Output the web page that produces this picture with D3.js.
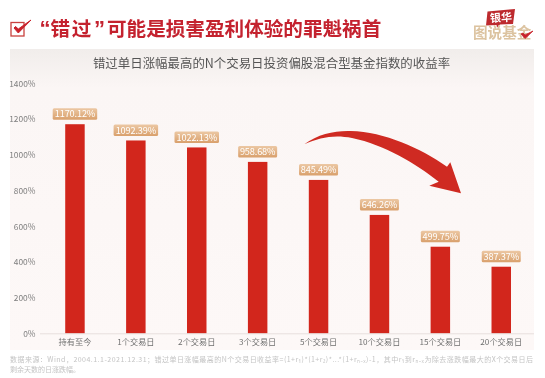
<!DOCTYPE html>
<html><head><meta charset="utf-8">
<script src="https://cdn.jsdelivr.net/npm/d3@7/dist/d3.min.js"></script>
<style>html,body{margin:0;padding:0;background:#fff}svg{display:block}text{font-family:"Noto Sans CJK SC","Noto Sans",sans-serif}</style>
</head><body><svg id="c" width="545" height="378"></svg>
<script>
const headlineParts = ["“","错过","”","可能是损害盈利体验的罪魁祸首"];
const chartTitle = "错过单日涨幅最高的N个交易日投资偏股混合型基金指数的收益率";
const categories = ["持有至今","1个交易日","2个交易日","3个交易日","5个交易日","10个交易日","15个交易日","20个交易日"];
const barHeights = [1172,1081,1042,961,860,664,486,374];
const barLabels = ["1170.12%","1092.39%","1022.13%","958.68%","845.49%","646.26%","499.75%","387.37%"];
const yTicks = [0,200,400,600,800,1000,1200,1400];
const footer = ["数据来源：Wind，2004.1.1-2021.12.31；错过单日涨幅最高的N个交易日收益率=(1+r₁)*(1+r₂)*...*(1+rₙ₋ₓ)-1，其中r₁到rₙ₋ₓ为除去涨跌幅最大的X个交易日后","剩余天数的日涨跌幅。"];

const svg = d3.select("#c");
const defs = svg.append("defs");
const bg = defs.append("linearGradient").attr("id","bg").attr("x1",0).attr("x2",0).attr("y1",0).attr("y2",1);
bg.append("stop").attr("offset",0).attr("stop-color","#f1edeb");
bg.append("stop").attr("offset",0.13).attr("stop-color","#fbf6f5");
bg.append("stop").attr("offset",1).attr("stop-color","#fdf8f7");
const lg = defs.append("linearGradient").attr("id","lab").attr("x1",0).attr("x2",0).attr("y1",0).attr("y2",1);
lg.append("stop").attr("offset",0).attr("stop-color","#ecc8a4");
lg.append("stop").attr("offset",1).attr("stop-color","#d9a06c");
const sg = defs.append("filter").attr("id","soft").attr("x","-5%").attr("y","-5%").attr("width","110%").attr("height","110%");
sg.append("feGaussianBlur").attr("stdDeviation",0.35);

const root = svg.append("g").attr("filter","url(#soft)");

root.append("rect").attr("x",10).attr("y",49).attr("width",524).attr("height",301).attr("fill","url(#bg)");

// header icon
root.append("rect").attr("x",11).attr("y",22.5).attr("width",13).attr("height",13.5).attr("fill","none").attr("stroke","#c9423f").attr("stroke-width",1.3);
root.append("path").attr("d","M14 28 L18.3 33 L31 20 L18.3 29 L15.5 26.5 Z").attr("fill","#c8232c").attr("stroke","#c8232c").attr("stroke-width",1);

const hl = root.append("text").attr("y",36).attr("font-size",19.6).attr("font-weight",700).attr("fill","#c4202f");
const hlX = [39.5,50.5,94,107];
headlineParts.forEach((t,i)=>{
  const s = hl.append("tspan").attr("x",hlX[i]).text(t);
  if(i%2===0 && i<3) s.style("font-family",'"Liberation Sans"').attr("font-size",22);
  if(i===1) s.attr("letter-spacing",1.6);
});

// logo
const logo = root.append("g");
logo.append("path").attr("d","M487.5 11.5 L515 9 L513 24 L500 24.5 L497 27.5 L496.5 25 L486 25.5 Z").attr("fill","#bd2a2e");
logo.append("text").attr("x",501).attr("y",21.5).attr("text-anchor","middle").attr("font-size",11).attr("font-weight",700).attr("fill","#fff").attr("transform","rotate(-4 501 17)").text("银华");
logo.append("text").attr("x",473).attr("y",37.5).attr("font-size",14.6).attr("font-weight",700).attr("fill","#dcc3a0").text("图说基金");
logo.append("path").attr("d","M521 34 L525 38.5 L533 31 L525 35 L523 33 Z").attr("fill","#c8232c").attr("stroke","#c8232c").attr("stroke-width",.8);

root.append("text").attr("x",271.5).attr("y",67.5).attr("text-anchor","middle").attr("font-size",12.45).attr("fill","#555").text(chartTitle);

const x = d3.scaleBand().domain(categories).range([44.5,531.7]).paddingInner(0.68).paddingOuter(0.34);
const y = d3.scaleLinear().domain([0,1400]).range([333.5,83.5]);

const yAxis = root.append("g").attr("transform","translate(35.5,0)")
  .call(d3.axisLeft(y).tickValues(yTicks).tickSize(0).tickPadding(0).tickFormat(d=>d+"%"));
yAxis.select(".domain").remove();
yAxis.selectAll("text").attr("font-size",8.4).attr("fill","#7f7f7f").style("font-family",'"Noto Sans CJK SC"');

root.selectAll("rect.bar").data(categories).join("rect").attr("class","bar")
  .attr("x",d=>x(d)).attr("width",x.bandwidth())
  .attr("y",(d,i)=>y(barHeights[i])).attr("height",(d,i)=>y(0)-y(barHeights[i]))
  .attr("fill","#d2281f");

const xAxis = root.append("g").attr("transform","translate(0,333.5)")
  .call(d3.axisBottom(x).tickSize(0).tickPadding(5.5));
xAxis.select(".domain").remove();
xAxis.selectAll("text").attr("font-size",8.2).attr("fill","#6f6f6f").style("font-family",'"Noto Sans CJK SC"');
root.append("line").attr("x1",40).attr("x2",534).attr("y1",333.8).attr("y2",333.8).attr("stroke","#e7dfdd").attr("stroke-width",1);

const lab = root.selectAll("g.lab").data(categories).join("g").attr("class","lab")
  .attr("transform",(d,i)=>`translate(${x(d)+x.bandwidth()/2},${y(barHeights[i])-4.5})`);
lab.append("rect").attr("x",(d,i)=>-(barLabels[i].length*5.5+0.5)/2).attr("y",-11.5)
  .attr("width",(d,i)=>barLabels[i].length*5.5+0.5).attr("height",11.5).attr("rx",1.5).attr("fill","url(#lab)");
lab.append("text").attr("text-anchor","middle").attr("y",-2.4).attr("font-size",9.2).attr("fill","#fff")
  .attr("letter-spacing",-0.15).text((d,i)=>barLabels[i]);

// arrow
root.append("path").attr("d","M304.3 144.3 C318 134 335 130.5 350.5 131 C385 132 420 148 447 166.7 L450.3 162.3 L461 193.3 L429.3 185.7 L438.7 181.7 C415 163 385 145 352 138 C335 134.5 320 137 304.3 144.3 Z").attr("fill","#cf2a20");

root.append("g").selectAll("text").data(footer).join("text").attr("x",10).attr("y",(d,i)=>361.5+i*10)
  .attr("font-size",7).attr("fill","#c4c4c4").attr("textLength",(d,i)=>i===0?523:null).attr("lengthAdjust","spacing").text(d=>d);
</script></body></html>
